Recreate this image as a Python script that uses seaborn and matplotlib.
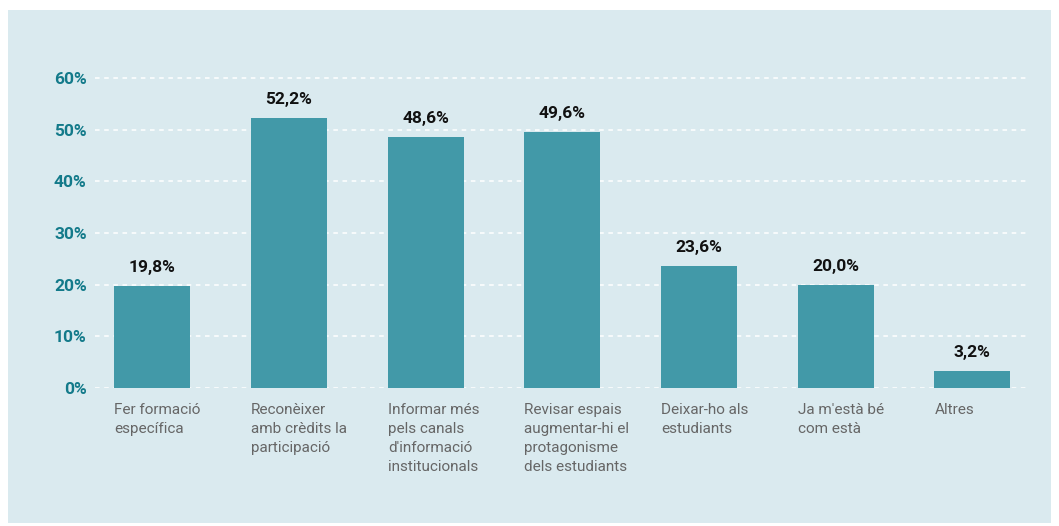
import matplotlib
matplotlib.use("Agg")
import matplotlib.pyplot as plt
import seaborn as sns
import pandas as pd
from matplotlib.patches import Rectangle
from matplotlib.transforms import blended_transform_factory

categories = [
    "Fer formació\nespecífica",
    "Reconèixer\namb crèdits la\nparticipació",
    "Informar més\npels canals\nd'informació\ninstitucionals",
    "Revisar espais\naugmentar-hi el\nprotagonisme\ndels estudiants",
    "Deixar-ho als\nestudiants",
    "Ja m'està bé\ncom està",
    "Altres",
]
values = [19.8, 52.2, 48.6, 49.6, 23.6, 20.0, 3.2]
value_labels = ["19,8%", "52,2%", "48,6%", "49,6%", "23,6%", "20,0%", "3,2%"]
y_ticks = [0, 10, 20, 30, 40, 50, 60]
y_tick_labels = ["0%", "10%", "20%", "30%", "40%", "50%", "60%"]

sns.set_theme(style="white")
plt.rcParams["font.family"] = ["Roboto", "DejaVu Sans"]

W, H = 1059, 526
fig = plt.figure(figsize=(W / 100, H / 100), dpi=100, facecolor="white")

# light blue panel behind the chart
fig.add_artist(Rectangle((8 / W, 1 - 523 / H), (1051 - 8) / W, (523 - 10) / H,
                         transform=fig.transFigure, facecolor="#DAEAEF",
                         edgecolor="none", zorder=-10))

y0_px, y60_px = 388, 78
ymax = 61
top_px = y0_px - (y0_px - y60_px) * ymax / 60
ax = fig.add_axes([95 / W, 1 - y0_px / H, (1027 - 95) / W, (y0_px - top_px) / H])
ax.set_facecolor("none")
ax.set_zorder(1)

df = pd.DataFrame({"cat": categories, "val": values})
sns.barplot(data=df, x="cat", y="val", color="#4299A8", saturation=1,
            width=0.555, linewidth=0, ax=ax, zorder=3)

ax.set_xlim(-0.42, 6.4)
ax.set_ylim(0, ymax)
ax.set_yticks(y_ticks)
ax.set_yticklabels(y_tick_labels, fontsize=12.5, fontweight="bold", color="#137A8A")
ax.tick_params(axis="y", length=0, pad=6)
ax.set_xticks([])
ax.set_xlabel("")
ax.set_ylabel("")
for s in ax.spines.values():
    s.set_visible(False)

for t in y_ticks:
    ax.axhline(t, color="white", lw=1.1, ls=(0, (3, 3)), zorder=1)

# value labels above bars
for i, (v, lab) in enumerate(zip(values, value_labels)):
    ax.annotate(lab, (i, v), xytext=(0, 8), textcoords="offset points",
                ha="center", va="bottom", fontsize=12.5, fontweight="bold",
                color="#111111")

# category labels below the axis, left-aligned with each bar
trans = blended_transform_factory(ax.transData, fig.transFigure)
for i, c in enumerate(categories):
    ax.text(i - 0.555 / 2, 1 - 403 / H, c, transform=trans, ha="left", va="top",
            fontsize=11, color="#666666", linespacing=1.45, clip_on=False)

fig.savefig("out.png", dpi=100, facecolor="white")
